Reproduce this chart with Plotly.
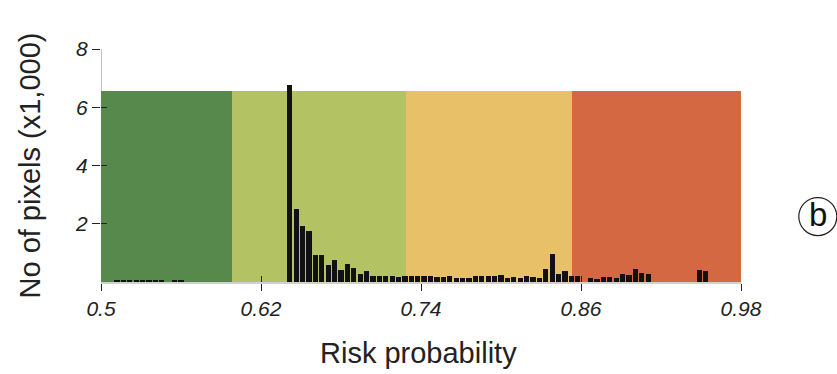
import plotly.graph_objects as go

# ---- data ----
x_min = 0.5
x_max = 0.98
bin_width = 0.0048
counts = (
    [0, 0] + [0.05] * 8 + [0, 0.05, 0.05] + [0] * 16 +
    [6.75, 2.51, 1.94, 1.75, 0.92, 0.92, 0.57, 0.77, 0.40, 0.61,
     0.48, 0.27, 0.38, 0.21, 0.21, 0.21, 0.21, 0.16, 0.20] +
    [0.20, 0.20, 0.20, 0.22, 0.18, 0.18, 0.20, 0.15, 0.15, 0.15, 0.20,
     0.22, 0.20, 0.20, 0.25, 0.15, 0.18, 0.15, 0.20, 0.17, 0.15] +
    [0.43, 0.97, 0.29, 0.37, 0.19, 0.22, 0, 0.14, 0.12, 0.17, 0.17,
     0.14, 0.29, 0.23, 0.43, 0.32, 0.26] +
    [0] * 7 + [0.40, 0.37] + [0] * 5
)
zone_edges = [0.5, 0.598, 0.729, 0.853, 0.98]
zone_top = 6.55
zone_colors = ["#58894c", "#b3c364", "#e7c067", "#d36843"]
x_ticks = [0.5, 0.62, 0.74, 0.86, 0.98]
x_tick_labels = ["0.5", "0.62", "0.74", "0.86", "0.98"]
y_ticks = [2, 4, 6, 8]
y_tick_labels = ["2", "4", "6", "8"]
y_max = 8

bin_centers = [x_min + bin_width * (i + 0.5) for i in range(len(counts))]
zone_centers = [(a + b) / 2 for a, b in zip(zone_edges[:-1], zone_edges[1:])]
zone_widths = [b - a for a, b in zip(zone_edges[:-1], zone_edges[1:])]

FONT = "Liberation Sans, Arial, sans-serif"

fig = go.Figure()
fig.add_trace(go.Bar(
    x=zone_centers, y=[zone_top] * len(zone_centers), width=zone_widths,
    marker=dict(color=zone_colors, line=dict(width=0)),
    showlegend=False, hoverinfo="skip"))
fig.add_trace(go.Bar(
    x=bin_centers, y=counts, width=bin_width * 0.82,
    marker=dict(color="#111111", line=dict(width=0)),
    showlegend=False))
# overlay axes carrying the inside half of the crossing ticks
fig.add_trace(go.Scatter(x=[None], y=[None], xaxis="x2", yaxis="y2",
                         showlegend=False, hoverinfo="skip"))

fig.update_layout(
    width=837, height=374,
    margin=dict(l=101, r=96, t=49, b=92, autoexpand=False),
    paper_bgcolor="white", plot_bgcolor="white",
    barmode="overlay", bargap=0,
    xaxis=dict(range=[x_min, x_max], tickvals=x_ticks, ticktext=x_tick_labels,
               ticks="outside", ticklen=7, tickwidth=1.3, tickcolor="#222",
               showgrid=False, zeroline=False,
               showline=True, linecolor="#d0d0d0", linewidth=1.5,
               tickfont=dict(family=FONT, size=21, color="#222", style="italic")),
    yaxis=dict(range=[0, y_max], tickvals=y_ticks, ticktext=y_tick_labels,
               ticks="outside", ticklen=8, tickwidth=1.3, tickcolor="#222",
               showgrid=False, zeroline=False, showline=False,
               tickfont=dict(family=FONT, size=21, color="#222", style="italic")),
    xaxis2=dict(overlaying="x", range=[x_min, x_max], tickvals=x_ticks,
                ticks="inside", ticklen=6, tickwidth=1.3, tickcolor="#222",
                showticklabels=False, showgrid=False, zeroline=False,
                showline=False, side="bottom"),
    yaxis2=dict(overlaying="y", range=[0, y_max], tickvals=y_ticks,
                ticks="inside", ticklen=6, tickwidth=1.3, tickcolor="#222",
                showticklabels=False, showgrid=False, zeroline=False,
                showline=False, side="left"),
    shapes=[
        dict(type="line", xref="x", yref="y", x0=x_min, x1=x_min,
             y0=zone_top, y1=y_max, line=dict(color="#999", width=1.2),
             layer="above"),
        dict(type="circle", xref="paper", yref="paper",
             xsizemode="pixel", ysizemode="pixel",
             xanchor=1.12, yanchor=0.281, x0=-19, x1=19, y0=-19, y1=19,
             line=dict(color="#222", width=1.2)),
    ],
    annotations=[
        dict(text="No of pixels (x1,000)", xref="paper", yref="paper",
             x=0, y=0.5, xshift=-72, textangle=-90, showarrow=False,
             xanchor="center", yanchor="middle",
             font=dict(family=FONT, size=29, color="#222")),
        dict(text="Risk probability", xref="paper", yref="paper",
             x=0.5, y=0, yshift=-71, xshift=-3, showarrow=False,
             xanchor="center", yanchor="middle",
             font=dict(family=FONT, size=29, color="#222")),
        dict(text="b", xref="paper", yref="paper", x=1.12, y=0.281,
             yshift=2, showarrow=False, xanchor="center", yanchor="middle",
             font=dict(family=FONT, size=33, color="#111")),
    ],
)

fig.write_html(
    "out.html",
    config={"displayModeBar": False},
    post_script="document.body.style.margin='0';document.body.style.overflow='hidden';",
)
